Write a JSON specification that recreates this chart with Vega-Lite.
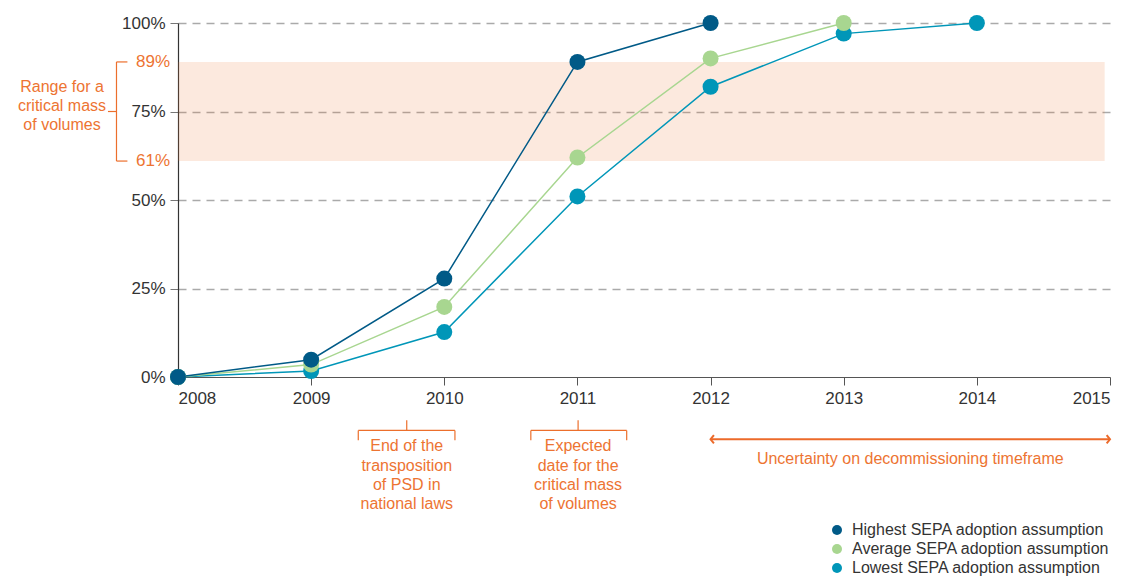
{
  "$schema": "https://vega.github.io/schema/vega-lite/v6.json",
  "width": 932,
  "height": 354,
  "autosize": {"type": "none"},
  "padding": {"left": 178, "top": 23, "right": 22, "bottom": 199},
  "background": "white",
  "config": {
    "view": {"stroke": null},
    "font": "Liberation Sans",
    "axis": {"labelFont": "Liberation Sans", "labelColor": "#333333", "labelFontSize": 17}
  },
  "datasets": {
    "series": [
      {"year": 2008, "value": 0, "series": "Lowest SEPA adoption assumption"},
      {"year": 2009, "value": 1.7, "series": "Lowest SEPA adoption assumption"},
      {"year": 2010, "value": 12.7, "series": "Lowest SEPA adoption assumption"},
      {"year": 2011, "value": 51, "series": "Lowest SEPA adoption assumption"},
      {"year": 2012, "value": 82, "series": "Lowest SEPA adoption assumption"},
      {"year": 2013, "value": 97, "series": "Lowest SEPA adoption assumption"},
      {"year": 2014, "value": 100, "series": "Lowest SEPA adoption assumption"},
      {"year": 2008, "value": 0, "series": "Average SEPA adoption assumption"},
      {"year": 2009, "value": 3.5, "series": "Average SEPA adoption assumption"},
      {"year": 2010, "value": 19.8, "series": "Average SEPA adoption assumption"},
      {"year": 2011, "value": 62, "series": "Average SEPA adoption assumption"},
      {"year": 2012, "value": 90, "series": "Average SEPA adoption assumption"},
      {"year": 2013, "value": 100, "series": "Average SEPA adoption assumption"},
      {"year": 2008, "value": 0, "series": "Highest SEPA adoption assumption"},
      {"year": 2009, "value": 4.9, "series": "Highest SEPA adoption assumption"},
      {"year": 2010, "value": 27.8, "series": "Highest SEPA adoption assumption"},
      {"year": 2011, "value": 89, "series": "Highest SEPA adoption assumption"},
      {"year": 2012, "value": 100, "series": "Highest SEPA adoption assumption"}
    ]
  },
  "layer": [
    {
      "data": {"values": [{"start": 2008, "end": 2014.96, "low": 61, "high": 89}]},
      "mark": {"type": "rect", "color": "#ec702d", "opacity": 0.155},
      "encoding": {
        "x": {"field": "start", "type": "quantitative", "scale": {"domain": [2008, 2015], "nice": false, "zero": false},
          "axis": {"values": [2008, 2009, 2010, 2011, 2012, 2013, 2014, 2015], "format": "d", "title": null, "grid": false,
            "domainColor": "#555555", "domainWidth": 1.2, "tickColor": "#555555", "tickSize": 8, "labelPadding": 5}},
        "x2": {"field": "end"},
        "y": {"field": "low", "type": "quantitative", "scale": {"domain": [0, 100], "nice": false, "zero": false},
          "axis": {"values": [0, 25, 50, 75, 100], "labelExpr": "datum.value + '%'", "title": null,
            "grid": true, "gridDash": [8, 6], "gridColor": "#aaaaaa", "gridWidth": 1.5,
            "gridOpacity": {"condition": {"test": "datum.value === 0", "value": 0}, "value": 1},
            "domainColor": "#333333", "domainWidth": 1.2, "tickColor": "#777777", "tickSize": 8, "labelPadding": 5}},
        "y2": {"field": "high"}
      }
    },
    {
      "data": {"name": "series"},
      "mark": {"type": "line", "strokeWidth": 1.5},
      "encoding": {
        "x": {"field": "year", "type": "quantitative"},
        "y": {"field": "value", "type": "quantitative"},
        "detail": {"field": "series"},
        "color": {"field": "series", "type": "nominal",
          "scale": {"domain": ["Highest SEPA adoption assumption", "Average SEPA adoption assumption", "Lowest SEPA adoption assumption"],
            "range": ["#005a87", "#a8d690", "#0096b8"]}}
      }
    },
    {
      "data": {"name": "series"},
      "mark": {"type": "point", "filled": true, "opacity": 1, "size": 256, "shape": "circle"},
      "encoding": {
        "x": {"field": "year", "type": "quantitative"},
        "y": {"field": "value", "type": "quantitative"},
        "color": {"field": "series", "type": "nominal",
          "scale": {"domain": ["Highest SEPA adoption assumption", "Average SEPA adoption assumption", "Lowest SEPA adoption assumption"],
            "range": ["#005a87", "#a8d690", "#0096b8"]},
          "legend": {"title": null, "orient": "none", "legendX": 651, "legendY": 499, "symbolType": "circle", "symbolSize": 100,
            "symbolOpacity": 1, "symbolStrokeWidth": 0, "labelFontSize": 16, "labelColor": "#333333", "labelFont": "Liberation Sans", "labelOffset": 7, "rowPadding": 3, "padding": 0, "labelLimit": 400}}
      }
    },
    {
      "data": {"values": [
        {"x1": 2007.538, "x2": 2007.538, "y1": 89, "y2": 61},
        {"x1": 2007.538, "x2": 2007.62, "y1": 89, "y2": 89},
        {"x1": 2007.538, "x2": 2007.62, "y1": 61, "y2": 61},
        {"x1": 2007.474, "x2": 2007.538, "y1": 75, "y2": 75},
        {"x1": 2009.718, "x2": 2009.718, "y1": -12.25, "y2": -15.1},
        {"x1": 2009.354, "x2": 2010.08, "y1": -15.1, "y2": -15.1},
        {"x1": 2009.354, "x2": 2009.354, "y1": -15.1, "y2": -17.9},
        {"x1": 2010.08, "x2": 2010.08, "y1": -15.1, "y2": -17.9},
        {"x1": 2011.005, "x2": 2011.005, "y1": -12.25, "y2": -15.1},
        {"x1": 2010.65, "x2": 2011.37, "y1": -15.1, "y2": -15.1},
        {"x1": 2010.65, "x2": 2010.65, "y1": -15.1, "y2": -17.9},
        {"x1": 2011.37, "x2": 2011.37, "y1": -15.1, "y2": -17.9}
      ]},
      "mark": {"type": "rule", "color": "#ec6f2c", "strokeWidth": 1.2},
      "encoding": {
        "x": {"field": "x1", "type": "quantitative"},
        "x2": {"field": "x2"},
        "y": {"field": "y1", "type": "quantitative"},
        "y2": {"field": "y2"}
      }
    },
    {
      "data": {"values": [{"x1": 2012, "x2": 2015, "y": -17.6}]},
      "mark": {"type": "rule", "color": "#ec6a2a", "strokeWidth": 2},
      "encoding": {
        "x": {"field": "x1", "type": "quantitative"},
        "x2": {"field": "x2"},
        "y": {"field": "y", "type": "quantitative"}
      }
    },
    {
      "data": {"values": [
        {"x": 2012, "y": -17.6, "head": "M0.8,-1L0,0L0.8,1"},
        {"x": 2015, "y": -17.6, "head": "M-0.8,-1L0,0L-0.8,1"}
      ]},
      "mark": {"type": "point", "filled": false, "stroke": "#ec6a2a", "strokeWidth": 2, "size": 70, "opacity": 1},
      "encoding": {
        "x": {"field": "x", "type": "quantitative"},
        "y": {"field": "y", "type": "quantitative"},
        "shape": {"field": "head", "type": "nominal", "scale": null, "legend": null}
      }
    },
    {
      "data": {"values": [
        {"x": 2007.129, "y": 82.0, "label": ["Range for a", "critical mass", "of volumes"]},
        {"x": 2009.718, "y": -19.6, "label": ["End of the", "transposition", "of PSD in", "national laws"]},
        {"x": 2011.005, "y": -19.6, "label": ["Expected", "date for the", "critical mass", "of volumes"]},
        {"x": 2013.5, "y": -23.1, "label": ["Uncertainty on decommissioning timeframe"]}
      ]},
      "mark": {"type": "text", "color": "#ed7432", "fontSize": 16, "font": "Liberation Sans", "align": "center", "baseline": "middle", "lineHeight": 19.3},
      "encoding": {
        "x": {"field": "x", "type": "quantitative"},
        "y": {"field": "y", "type": "quantitative"},
        "text": {"field": "label"}
      }
    },
    {
      "data": {"values": [
        {"x": 2007.94, "y": 89, "label": "89%"},
        {"x": 2007.94, "y": 61, "label": "61%"}
      ]},
      "mark": {"type": "text", "color": "#ed7432", "fontSize": 17, "font": "Liberation Sans", "align": "right", "baseline": "middle"},
      "encoding": {
        "x": {"field": "x", "type": "quantitative"},
        "y": {"field": "y", "type": "quantitative"},
        "text": {"field": "label"}
      }
    }
  ]
}
